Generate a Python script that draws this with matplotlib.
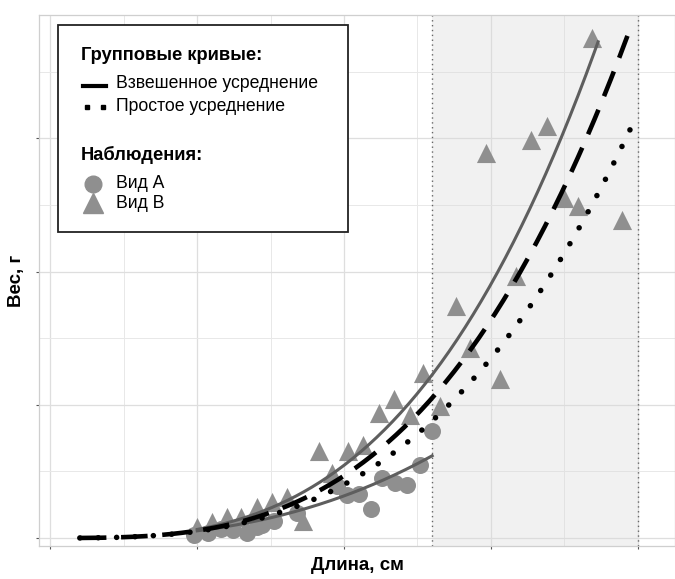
import numpy as np
import matplotlib
matplotlib.use("Agg")
import matplotlib.pyplot as plt
from matplotlib.lines import Line2D
from matplotlib.patches import Rectangle

plt.rcParams['font.family'] = ['Liberation Sans', 'DejaVu Sans']

length_a = [0.98, 1.07, 1.16, 1.24, 1.34, 1.41, 1.44, 1.52, 1.68, 1.95,
            2.02, 2.10, 2.18, 2.26, 2.35, 2.43, 2.52, 2.60]
weight_a = [0.02, 0.04, 0.07, 0.06, 0.04, 0.08, 0.10, 0.13, 0.19, 0.39,
            0.32, 0.33, 0.22, 0.45, 0.41, 0.40, 0.55, 0.80]

length_b = [1.00, 1.10, 1.20, 1.30, 1.41, 1.51, 1.61, 1.72, 1.83, 1.92,
            2.03, 2.13, 2.24, 2.34, 2.45, 2.54, 2.65, 2.76, 2.86, 2.97,
            3.06, 3.17, 3.27, 3.38, 3.50, 3.59, 3.69, 3.89]
weight_b = [0.08, 0.12, 0.16, 0.16, 0.23, 0.27, 0.31, 0.13, 0.65, 0.49,
            0.65, 0.70, 0.94, 1.04, 0.92, 1.24, 0.99, 1.74, 1.43, 2.89,
            1.19, 1.97, 2.99, 3.09, 2.55, 2.49, 3.75, 2.39]

# Fitted curves  W = a * L^b
curve_names = ['Вид A', 'Вид B', 'Взвешенное усреднение', 'Простое усреднение']
curve_a = [0.054, 0.0646, 0.0549, 0.0505]
curve_b = [2.55, 3.08, 3.09, 2.99]
curve_from = [1.0, 1.0, 0.2, 0.2]
curve_to = [2.6, 3.73, 3.93, 4.0]

zone_start, zone_end = 2.6, 4.0

W, H = 675, 579
fig = plt.figure(figsize=(W / 100, H / 100), dpi=100)
ax = fig.add_axes([39 / W, (H - 546) / H, 636 / W, 531 / H])

ax.set_xlim(-0.078, 4.254)
ax.set_ylim(-0.06, 3.926)
ax.set_xticks(np.arange(0, 5, 1))
ax.set_yticks(np.arange(0, 4, 1))
ax.set_xticks(np.arange(0.5, 4.5, 1), minor=True)
ax.set_yticks(np.arange(0.5, 4, 1), minor=True)
ax.set_xticklabels([])
ax.set_yticklabels([])
ax.tick_params(which='major', length=2.5, width=0.8, color='#555555')
ax.tick_params(which='minor', length=0)
ax.grid(which='major', color='#dedede', lw=0.9)
ax.grid(which='minor', color='#e8e8e8', lw=0.7)
ax.set_axisbelow(True)
for s in ax.spines.values():
    s.set_color('#cfcfcf')
    s.set_linewidth(0.9)

ax.axvspan(zone_start, zone_end, color='#d9d9d9', alpha=0.35, lw=0, zorder=1)
for xv in (zone_start, zone_end):
    ax.axvline(xv, color='#666666', lw=1.0, ls=(0, (1, 2.5)), zorder=1.5)

ax.scatter(length_a, weight_a, s=150, marker='o', color='#8f8f8f', lw=0, zorder=2)
ax.scatter(length_b, weight_b, s=190, marker='^', color='#8f8f8f', lw=0, zorder=2)

styles = [dict(color='#5e5e5e', lw=2.2, ls='-'),
          dict(color='#5e5e5e', lw=2.2, ls='-'),
          dict(color='black', lw=3.3, ls=(0, (5.8, 3.2))),
          dict(color='black', lw=4.0, ls=(0, (0.01, 3.3)), dash_capstyle='round')]
for i in range(len(curve_names)):
    L = np.linspace(curve_from[i], curve_to[i], 200)
    ax.plot(L, curve_a[i] * L ** curve_b[i], zorder=3 + i, **styles[i])

ax.set_xlabel('Длина, см', fontsize=13.5, fontweight='bold', va='center')
ax.xaxis.set_label_coords(0.5, (546 - 566) / 531)
ax.set_ylabel('Вес, г', fontsize=13.5, fontweight='bold', va='center')
ax.yaxis.set_label_coords((16 - 39) / 636, 0.5)


# legend box drawn in figure pixels
def fx(px):
    return px / W


def fy(py):
    return 1 - py / H


fig.add_artist(Rectangle((fx(58), fy(232)), fx(348) - fx(58), fy(25) - fy(232),
                         transform=fig.transFigure, facecolor='white',
                         edgecolor='#222222', lw=1.3, zorder=10))
fs_title = 13.2
fs = 12.7
fig.text(fx(81), fy(55), 'Групповые кривые:', fontsize=fs_title, fontweight='bold',
         va='center', zorder=11)
fig.add_artist(Line2D([fx(83), fx(106)], [fy(86), fy(86)], transform=fig.transFigure,
                      color='black', lw=3.0, zorder=11))
fig.text(fx(116), fy(84), 'Взвешенное усреднение', fontsize=fs, va='center', zorder=11)
fig.add_artist(Line2D([fx(86.5), fx(103.5)], [fy(107), fy(107)], transform=fig.transFigure,
                      color='black', lw=0, marker='s', ms=3.4, zorder=11))
fig.text(fx(116), fy(106), 'Простое усреднение', fontsize=fs, va='center', zorder=11)
fig.text(fx(81), fy(155), 'Наблюдения:', fontsize=fs_title, fontweight='bold',
         va='center', zorder=11)
fig.add_artist(Line2D([fx(93)], [fy(184)], transform=fig.transFigure, lw=0,
                      marker='o', ms=12, color='#8f8f8f', zorder=11))
fig.text(fx(116), fy(183), 'Вид А', fontsize=fs, va='center', zorder=11)
fig.add_artist(Line2D([fx(93)], [fy(203)], transform=fig.transFigure, lw=0,
                      marker='^', ms=14, color='#8f8f8f', zorder=11))
fig.text(fx(116), fy(203), 'Вид В', fontsize=fs, va='center', zorder=11)

fig.savefig('out.png', dpi=100)
